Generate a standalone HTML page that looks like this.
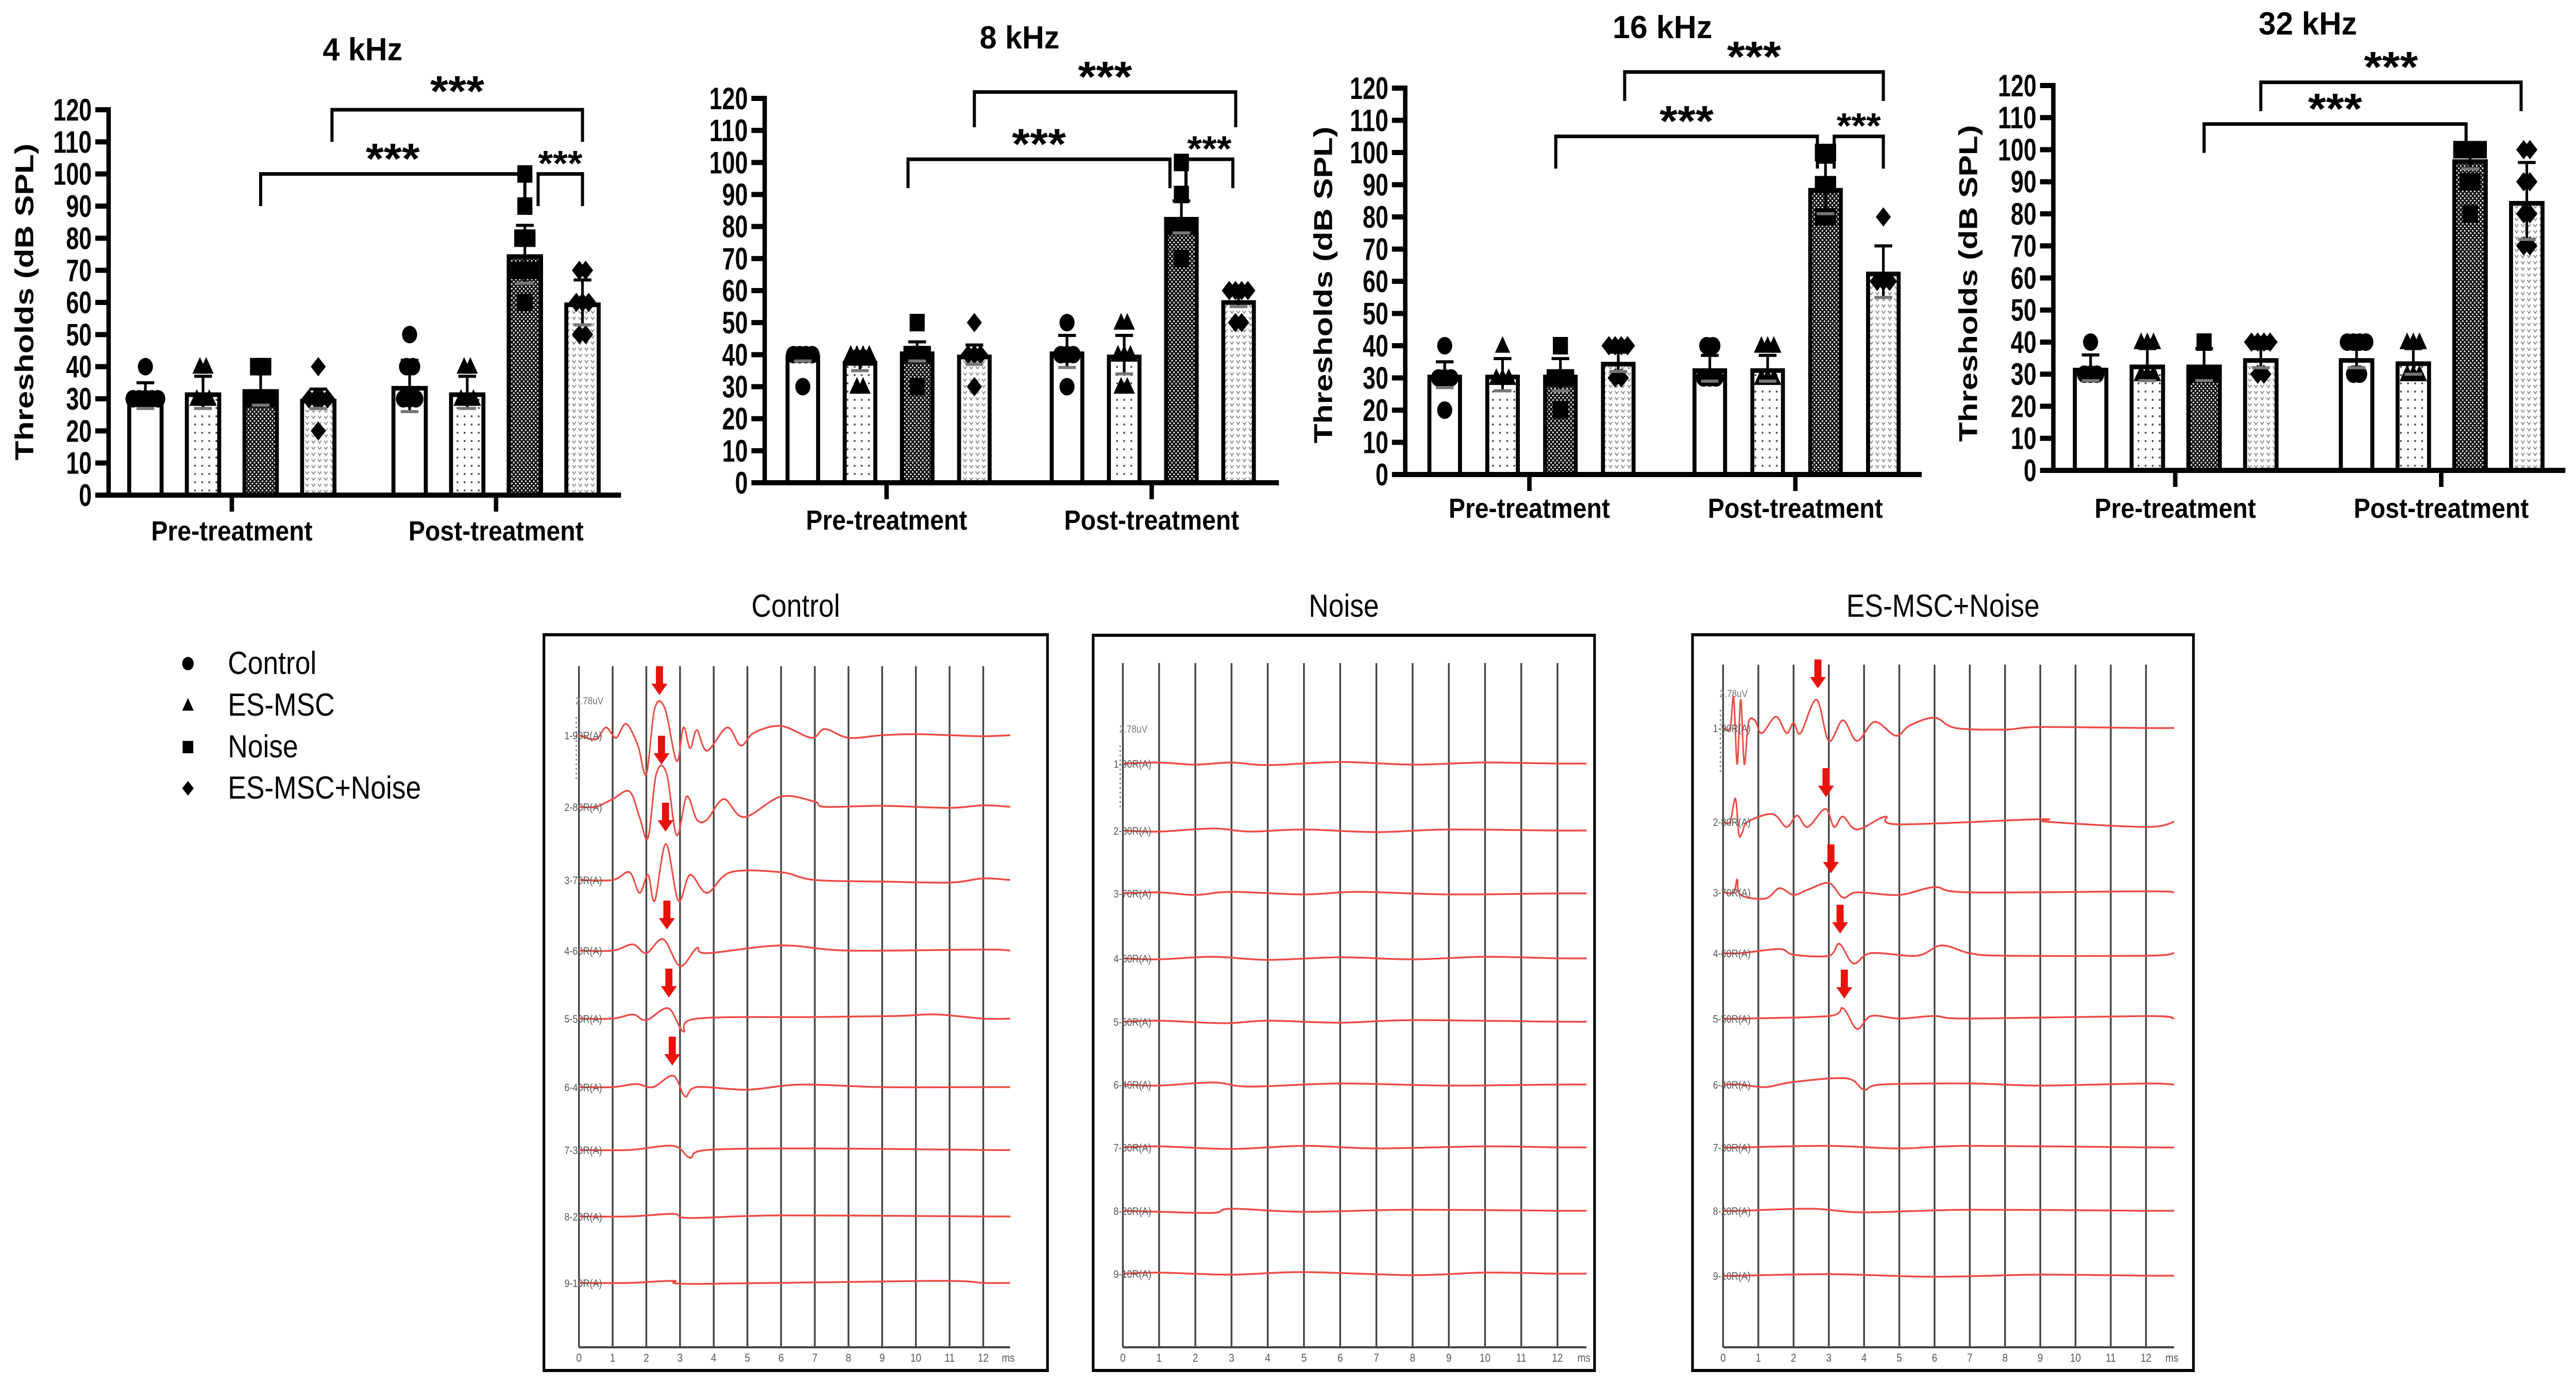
<!DOCTYPE html>
<html><head><meta charset="utf-8"><title>ABR thresholds</title>
<style>html,body{margin:0;padding:0;background:#fff;overflow:hidden;width:100%;height:100%}svg{display:block;width:100vw;height:100vh}</style></head>
<body>
<svg id="fig" xmlns="http://www.w3.org/2000/svg" viewBox="0 0 5811 2694" preserveAspectRatio="none">
<defs>
<pattern id="pDots" width="16" height="16" patternUnits="userSpaceOnUse"><rect width="16" height="16" fill="#fff"/><circle cx="8" cy="8" r="2" fill="#444"/></pattern>
<pattern id="pCheck" width="9" height="9" patternUnits="userSpaceOnUse"><rect width="9" height="9" fill="#111"/><circle cx="2.5" cy="2.5" r="1.7" fill="#fff"/><circle cx="7" cy="7" r="1.7" fill="#fff"/></pattern>
<pattern id="pVee" width="14" height="12" patternUnits="userSpaceOnUse"><rect width="14" height="12" fill="#fff"/><path d="M3 3 L7 8 L11 3" stroke="#888" stroke-width="2" fill="none"/></pattern>
</defs>
<g id="charts"></g>
<g id="legend"></g>
<g id="abr"></g>
</svg>
<script>
// ---------- bar chart data ----------
const categories = ['Pre-treatment','Post-treatment'];
const seriesNames = ['Control','ES-MSC','Noise','ES-MSC+Noise'];
const yTicks = [0,10,20,30,40,50,60,70,80,90,100,110,120];
const means4k  = [31,32,33,30, 34,32,75,60];
const sem4k    = [4,5,5,3, 8,5,9,7];
const pts4k    = [[30,30,30,30,30,40],[30,30,30,40,40],[30,30,30,30,40,40],[30,30,30,30,20,40],[30,30,30,40,40,50],[30,30,30,40,40],[60,70,70,70,80,80,90,100],[50,50,60,60,60,70,70]];
const means8k  = [40,38,41,40, 41,40,83,57];
const sem8k    = [2,3,3,3, 5,6,5,2];
const pts8k    = [[40,40,40,40,30],[40,40,40,40,30,30],[40,40,40,30,50],[40,40,40,30,50],[40,40,40,30,50],[40,40,40,30,30,50,50],[80,80,80,70,90,100],[60,60,60,60,50,50]];
const means16k = [31,31,31,35, 33,33,89,63];
const sem16k   = [4,5,5,3, 4,4,8,8];
const pts16k   = [[30,30,30,20,40],[30,30,30,40],[30,30,30,20,40],[30,30,40,40,40,40],[30,30,30,40,40],[30,30,30,40,40,40],[80,80,90,90,100,100],[60,60,60,80]];
const means32k = [32,33,33,35, 35,34,97,84];
const sem32k   = [4,5,5,3, 3,4,3,12];
const pts32k   = [[30,30,30,40],[30,30,30,40,40,40],[30,30,30,40],[30,30,40,40,40,40],[30,30,40,40,40,40],[30,30,30,40,40,40],[80,90,90,100,100,100,100],[70,70,80,80,90,90,100,100]];
// brackets: [fromBar, toBar, level, dropLevel, starLevel, small]
const brk4k  = [[2,6,100,90,108,0],[3.15,7.1,120,110,129,0],[6.23,7.08,100,90,106,1]];
const brk8k  = [[1.84,5.8,101,92,109,0],[3.0,6.95,122,111,130,0],[6.08,6.9,101,92,107,1]];
const brk16k = [[1.92,5.86,105,95,113,0],[3.07,7.0,125,116,133,0],[6.15,7.0,105,95,111,1]];
const brk32k = [[2.0,5.93,108,99,116,0],[3.0,6.9,121,112,129,0]];

// layout (positions only)
const chartLayouts = [
 {name:'4khz', title:'4 kHz', titleX:818, titleY:117, titleLen:180, axisX:245, axisEnd:1401, y0:961, y120:213, start:287, step:130, gap:76, w:82, gt:[523,1119], labY:1049, ylab:[55,586], means:means4k, sem:sem4k, pts:pts4k, brk:brk4k},
 {name:'8khz', title:'8 kHz', titleX:2300, titleY:94, titleLen:180, axisX:1725, axisEnd:2885, y0:937, y120:191, start:1772, step:129, gap:80, w:78, gt:[2000,2598], labY:1028, ylab:null, means:means8k, sem:sem8k, pts:pts8k, brk:brk8k},
 {name:'16khz', title:'16 kHz', titleX:3750, titleY:74, titleLen:225, axisX:3170, axisEnd:4335, y0:921, y120:171, start:3220, step:130.5, gap:76, w:78, gt:[3450,4050], labY:1005, ylab:[2985,553], means:means16k, sem:sem16k, pts:pts16k, brk:brk16k},
 {name:'32khz', title:'32 kHz', titleX:5206, titleY:67, titleLen:222, axisX:4632, axisEnd:5787, y0:913, y120:166, start:4676, step:128, gap:88, w:80, gt:[4907,5507], labY:1005, ylab:[4440,550], means:means32k, sem:sem32k, pts:pts32k, brk:brk32k}
];
const fills = ['#fff','url(#pDots)','url(#pCheck)','url(#pVee)'];
const NS='http://www.w3.org/2000/svg';
function mk(tag, attrs, parent){const e=document.createElementNS(NS,tag);for(const k in attrs)e.setAttribute(k,attrs[k]);if(parent)parent.appendChild(e);return e;}
function marker(parent, shape, cx, cy, s){
  let e;
  if(shape===0) e=mk('circle',{cx:cx,cy:cy,r:s},parent);
  else if(shape===1) e=mk('polygon',{points:`${cx},${cy-s*1.1} ${cx+s},${cy+s*0.8} ${cx-s},${cy+s*0.8}`},parent);
  else if(shape===2) e=mk('rect',{x:cx-s,y:cy-s,width:2*s,height:2*s},parent);
  else e=mk('polygon',{points:`${cx},${cy-s*1.1} ${cx+s},${cy} ${cx},${cy+s*1.1} ${cx-s},${cy}`},parent);
  e.setAttribute('fill','#000');
  return e;
}
const chartsG=document.getElementById('charts');
chartLayouts.forEach(L=>{
  const g=mk('g',{},chartsG);
  
  
  const ys=v=>L.y0-(v/120)*(L.y0-L.y120);
  const barLeft=i=>L.start+i*L.step+(i>=4?L.gap:0);
  const barCenter=i=>{const fi=Math.floor(i), fr=i-fi; const c0=barLeft(Math.min(fi,7))+L.w/2; if(fr===0) return c0; const c1=barLeft(Math.min(fi+1,7))+L.w/2; return c0+(c1-c0)*fr;};
  const t=mk('text',{x:L.titleX,y:L.titleY,'text-anchor':'middle','font-family':'Liberation Sans, sans-serif','font-weight':'bold','font-size':62,textLength:L.titleLen,lengthAdjust:'spacingAndGlyphs'},g);
  t.textContent=L.title;
  
  
  L.means.forEach((m,i)=>{
    const x=barLeft(i), y=ys(m);
    const r=mk('rect',{x:x+4.5,y:y+4.5,width:L.w-9,height:L.y0-y-4.5,fill:fills[i%4],stroke:'#000','stroke-width':9},g);
    
    
  });
  L.pts.forEach((arr,i)=>{
    const cx=barLeft(i)+L.w/2;
    const counts={};arr.forEach(v=>counts[v]=(counts[v]||0)+1);
    const seen={};
    arr.forEach(v=>{
      const n=counts[v]; const k=(seen[v]=(seen[v]||0)+1)-1;
      const dx=n>1?(k-(n-1)/2)*Math.min(14,(L.w-10)/(n-1)):0;
      const e=marker(g,i%4,cx+dx,ys(v),17);
      
      
    });
  });
  L.means.forEach((m,i)=>{
    const cx=barLeft(i)+L.w/2, s=L.sem[i];
    const eg=mk('g',{stroke:'#000','stroke-width':6},g);
    
    
    mk('line',{x1:cx,x2:cx,y1:ys(m-s),y2:ys(m+s)},eg);
    mk('line',{x1:cx-20,x2:cx+20,y1:ys(m+s),y2:ys(m+s)},eg);
    mk('line',{x1:cx-20,x2:cx+20,y1:ys(m-s),y2:ys(m-s),stroke:'#777'},eg);
  });
  const ax=mk('g',{stroke:'#000','stroke-width':10,fill:'none'},g);
  
  
  mk('line',{x1:L.axisX,x2:L.axisX,y1:L.y120-5,y2:L.y0+5},ax);
  mk('line',{x1:L.axisX-5,x2:L.axisEnd,y1:L.y0,y2:L.y0},ax);
  yTicks.forEach(v=>{
    mk('line',{x1:L.axisX-30,x2:L.axisX,y1:ys(v),y2:ys(v)},ax);
    const tl=mk('text',{x:L.axisX-38,y:ys(v)+21,'text-anchor':'end','font-family':'Liberation Sans, sans-serif','font-weight':'bold','font-size':60,textLength:29*String(v).length,lengthAdjust:'spacingAndGlyphs',stroke:'none',fill:'#000'},g);
    tl.textContent=v;
    
    
  });
  L.gt.forEach((gx,ci)=>{
    mk('line',{x1:gx,x2:gx,y1:L.y0,y2:L.y0+32},ax);
    const gl=mk('text',{x:gx,y:L.labY,'text-anchor':'middle','font-family':'Liberation Sans, sans-serif','font-weight':'bold','font-size':54,textLength:ci===0?364:395,lengthAdjust:'spacingAndGlyphs'},g);
    gl.textContent=categories[ci];
    
    
  });
  if(L.ylab){
    const yl=mk('text',{x:0,y:0,transform:`translate(${L.ylab[0]+20},${L.ylab[1]}) rotate(-90)`,'text-anchor':'middle','font-family':'Liberation Sans, sans-serif','font-weight':'bold','font-size':58,textLength:615,lengthAdjust:'spacingAndGlyphs'},g);
    yl.textContent='Thresholds (dB SPL)';
    
    
  }
  L.brk.forEach(b=>{
    const x1=barCenter(b[0]), x2=barCenter(b[1]);
    const bg=mk('g',{},g);
    
    
    mk('path',{d:`M${x1},${ys(b[3])} L${x1},${ys(b[2])} L${x2},${ys(b[2])} L${x2},${ys(b[3])}`,stroke:'#000','stroke-width':7,fill:'none'},bg);
    const fs=b[5]?70:84;
    const st=mk('text',{x:(x1+x2)/2,y:ys(b[4])+fs*0.58,'text-anchor':'middle','font-family':'Liberation Sans, sans-serif','font-weight':'bold','font-size':fs,textLength:b[5]?100:122,lengthAdjust:'spacingAndGlyphs'},bg);
    st.textContent='***';
  });
});

// ---------- legend ----------
const legendYs=[1308,1389,1470,1550];
const lg=document.getElementById('legend');
seriesNames.forEach((n,i)=>{
  const e=mk('g',{},lg);
  
  
  marker(e,i,424,legendYs[i]-20,i===2?12:13);
  const t=mk('text',{x:514,y:legendYs[i],'font-family':'Liberation Sans, sans-serif','font-size':62},e);
  t.textContent=n;
});

// ---------- ABR traces data: [ms, amplitude] ----------
const msTicks=['0','1','2','3','4','5','6','7','8','9','10','11','12'];
const traceLabels=['1-90R(A)','2-80R(A)','3-70R(A)','4-60R(A)','5-50R(A)','6-40R(A)','7-30R(A)','8-20R(A)','9-10R(A)'];
const controlTraces=[
 [[0.5,-8],[0.8,15],[1.1,-5],[1.4,22],[1.75,-20],[2.0,-75],[2.25,52],[2.55,52],[2.9,-50],[3.1,15],[3.3,-25],[3.5,10],[3.8,-30],[4.4,15],[4.8,-20],[5.2,5],[6.0,18],[6.9,-5],[7.3,12],[8,-5],[9,0],[10,2],[11,0],[12,-2]],
 [[0.5,0],[1.0,15],[1.5,30],[1.8,-20],[2.05,-60],[2.3,65],[2.6,65],[2.9,-55],[3.2,20],[3.5,-25],[3.8,-25],[4.3,15],[4.9,-20],[6.0,20],[7,10],[7.3,0],[9,2],[11,-2],[12,3]],
 [[1.0,0],[1.5,15],[1.8,-25],[2.05,10],[2.25,-40],[2.58,70],[2.95,-40],[3.3,10],[3.8,-25],[4.5,15],[6,15],[7,0],[9,-3],[11,-5],[12,3]],
 [[1.0,0],[1.6,12],[2.0,-5],[2.5,22],[3.0,-30],[3.5,5],[3.8,-5],[6,10],[8,0],[12,2]],
 [[1.0,0],[1.6,8],[2.0,-3],[2.65,20],[3.1,-25],[3.5,0],[7,3],[9.4,5],[10.6,8],[12,0]],
 [[1.0,0],[1.7,6],[2.2,0],[2.8,22],[3.15,-18],[3.5,0],[5,-5],[6.6,5],[9,0],[12,0]],
 [[1.5,0],[2.8,8],[3.3,-15],[3.8,0],[7,3],[12,0]],
 [[1.5,0],[2.8,5],[3.3,-3],[6,2],[12,0]],
 [[1.5,0],[2.8,4],[3.5,-2],[10.5,4],[12,0]]
];
const noiseTraces=[
 [[1,2],[2,-2],[3,2],[4,-3],[6,3],[8,-2],[10,2],[12,0]],
 [[1,-2],[2.5,4],[3.5,-2],[5,2],[7,-3],[9,2],[12,0]],
 [[1,2],[2,-3],[3,3],[5,-2],[6.5,3],[9,-2],[12,0]],
 [[1,-2],[2.5,3],[4,-3],[6,2],[8,-2],[10,3],[12,0]],
 [[1,2],[2.8,-3],[4,2],[6,-2],[8,3],[12,0]],
 [[1,-2],[2.5,4],[3.5,-4],[6,2],[9,-2],[12,0]],
 [[1,2],[3,-3],[5,3],[7,-2],[10,2],[12,0]],
 [[1,-2],[2.5,-4],[3,4],[5,-2],[8,2],[12,0]],
 [[1,2],[3,-2],[5,3],[8,-3],[10,2],[12,0]]
];
const esTraces=[
 [[0.2,0],[0.3,60],[0.4,-70],[0.5,55],[0.6,-70],[0.72,10],[0.9,15],[1.1,-10],[1.5,22],[1.8,-10],[2.0,10],[2.2,-10],[2.65,55],[3.0,-25],[3.4,15],[3.8,-25],[4.3,12],[4.9,-15],[5.3,5],[6.0,20],[6.6,0],[8,-3],[9,2],[12,0]],
 [[0.2,0],[0.35,45],[0.45,-25],[0.55,-20],[0.7,0],[1.4,15],[1.8,-10],[2.1,12],[2.4,-10],[2.9,25],[3.15,-10],[3.4,10],[3.8,-15],[4.6,10],[5,-5],[9,5],[9.2,0],[12,-10]],
 [[0.3,0],[0.4,25],[0.5,-5],[1.2,-12],[1.6,8],[2.0,-5],[2.4,5],[3.0,18],[3.4,-10],[3.8,0],[5,-5],[6,10],[7,0],[12,2]],
 [[0.5,0],[1.6,8],[2.0,-3],[3.0,-5],[3.3,18],[3.7,-20],[4.2,0],[5.5,-5],[6.2,15],[7,0],[8,-5],[12,-5]],
 [[0.5,0],[3.0,5],[3.4,20],[3.8,-20],[4.2,5],[5,0],[6,5],[7,0],[12,5]],
 [[0.5,0],[1.2,-5],[2.0,5],[3.5,12],[4.0,-10],[4.5,0],[7,2],[9,-2],[12,2]],
 [[0.5,0],[3,3],[5,-2],[7,3],[12,0]],
 [[0.5,0],[2.5,4],[4,-3],[7,2],[12,0]],
 [[0.5,0],[3,3],[6,-2],[9,2],[12,0]]
];
// arrows: [traceIndex, ms, gapAboveBaseline]
const controlArrows=[[0,2.39,78],[1,2.45,82],[2,2.57,94],[3,2.61,41],[4,2.67,41],[5,2.77,42]];
const esArrows=[[0,2.69,77],[1,2.92,48],[2,3.06,37],[3,3.32,38],[4,3.44,39]];

const panelLayouts=[
 {name:'control', title:'Control', left:1227, right:2363, top:1232, bottom:2660, g0:1306, step:76, gTop:1293, gBot:2615, tys:[1427,1566,1708,1845,1977,2110,2232,2361,2490], traces:controlTraces, arrows:controlArrows},
 {name:'noise', title:'Noise', left:2466, right:3597, top:1233, bottom:2660, g0:2533, step:81.7, gTop:1287, gBot:2615, tys:[1482,1612,1734,1860,1983,2105,2227,2350,2472], traces:noiseTraces, arrows:[]},
 {name:'es-msc-noise', title:'ES-MSC+Noise', left:3818, right:4948, top:1232, bottom:2660, g0:3887, step:79.5, gTop:1290, gBot:2615, tys:[1413,1595,1732,1850,1977,2105,2227,2350,2476], traces:esTraces, arrows:esArrows}
];
function smoothPath(pts){
  let d=`M${pts[0][0]},${pts[0][1]}`;
  for(let i=0;i<pts.length-1;i++){
    const p0=pts[Math.max(0,i-1)],p1=pts[i],p2=pts[i+1],p3=pts[Math.min(pts.length-1,i+2)];
    const c1x=p1[0]+(p2[0]-p0[0])/6,c1y=p1[1]+(p2[1]-p0[1])/6;
    const c2x=p2[0]-(p3[0]-p1[0])/6,c2y=p2[1]-(p3[1]-p1[1])/6;
    d+=` C${c1x.toFixed(1)},${c1y.toFixed(1)} ${c2x.toFixed(1)},${c2y.toFixed(1)} ${p2[0].toFixed(1)},${p2[1].toFixed(1)}`;
  }
  return d;
}
const abrG=document.getElementById('abr');
panelLayouts.forEach(P=>{
  const g=mk('g',{},abrG);
  
  
  const xs=t=>P.g0+t*P.step;
  const tt=mk('text',{x:(P.left+P.right)/2,y:1197,'text-anchor':'middle','font-family':'Liberation Sans, sans-serif','font-size':62},g);
  tt.textContent=P.title;
  
  
  mk('rect',{x:P.left,y:P.top,width:P.right-P.left,height:P.bottom-P.top,fill:'#fff',stroke:'#000','stroke-width':6},g);
  const grid=mk('g',{stroke:'#444','stroke-width':4},g);
  
  
  msTicks.forEach((m,i)=>{
    mk('line',{x1:xs(i),x2:xs(i),y1:P.gTop,y2:P.gBot},grid);
    const tl=mk('text',{x:xs(i),y:P.gBot+28,'text-anchor':'middle','font-family':'Liberation Sans, sans-serif','font-size':22,fill:'#555',stroke:'none'},g);
    tl.textContent=m;
  });
  mk('line',{x1:xs(0),x2:xs(12.8),y1:P.gBot,y2:P.gBot,stroke:'#444','stroke-width':4},g);
  const ms=mk('text',{x:xs(12.55),y:P.gBot+28,'font-family':'Liberation Sans, sans-serif','font-size':22,fill:'#555'},g);
  ms.textContent='ms';
  const sc=mk('text',{x:xs(0)-8,y:P.tys[0]-60,'font-family':'Liberation Sans, sans-serif','font-size':20,fill:'#777'},g);
  sc.textContent='2.78uV';
  mk('line',{x1:xs(0)-6,x2:xs(0)-6,y1:P.tys[0]-35,y2:P.tys[0]+90,stroke:'#777','stroke-width':3,'stroke-dasharray':'3 6'},g);
  P.traces.forEach((tr,k)=>{
    const base=P.tys[k];
    const pts=[[xs(0),base]].concat(tr.map(p=>[xs(p[0]),base-p[1]])).concat([[xs(12.8),base]]);
    const path=mk('path',{d:smoothPath(pts),fill:'none',stroke:'#ee4b45','stroke-width':3.5},g);
    
    
    const lb=mk('text',{x:P.left+46,y:base+8,'font-family':'Liberation Sans, sans-serif','font-size':21,fill:'#555'},g);
    lb.textContent=traceLabels[k];
  });
  P.arrows.forEach(a=>{
    const x=xs(a[1]), tip=P.tys[a[0]]-a[2];
    const ar=mk('polygon',{points:`${x-8},${tip-56} ${x+8},${tip-56} ${x+8},${tip-22} ${x+18},${tip-22} ${x},${tip} ${x-18},${tip-22} ${x-8},${tip-22}`,fill:'#e8120c'},g);
    
    
  });
});
</script>
</body></html>
